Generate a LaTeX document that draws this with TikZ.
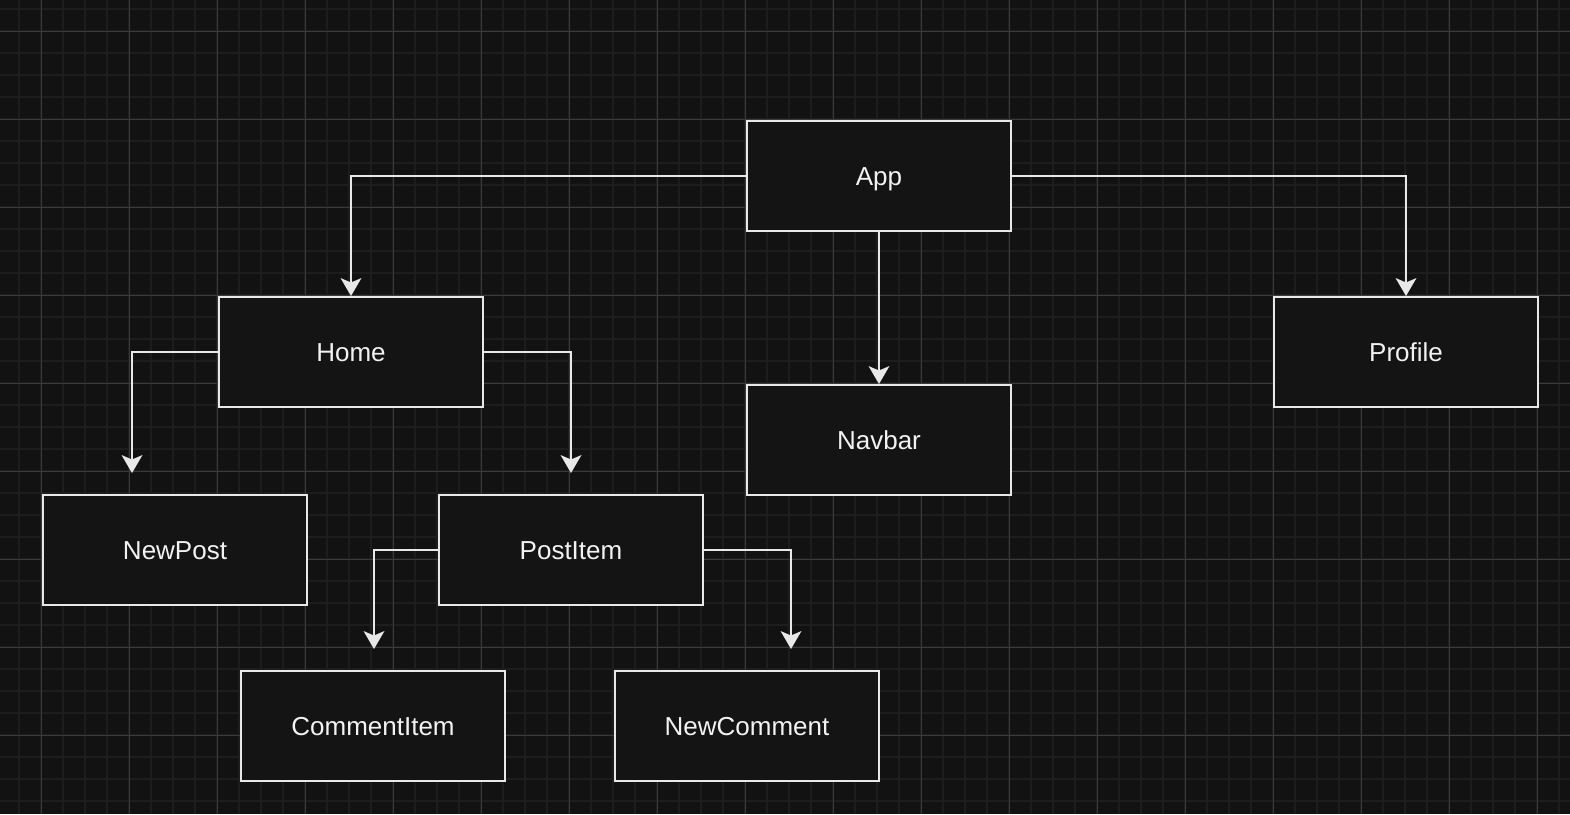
\documentclass[tikz,border=0pt]{standalone}
\usepackage{fontspec}
\setmainfont{Liberation Sans}
\usetikzlibrary{arrows.meta}
\definecolor{bgc}{HTML}{121212}
\definecolor{minorc}{HTML}{1D1D1D}
\definecolor{majorc}{HTML}{3A3A3A}
\definecolor{boxfill}{HTML}{141414}
\definecolor{linec}{HTML}{E8E8E8}
\definecolor{textc}{HTML}{F2F2F2}
\tikzset{
  comp/.style={draw=linec, line width=2pt, fill=boxfill, minimum width=264pt, minimum height=110pt,
    inner sep=0pt, text=textc, text height=18.7pt, text depth=0pt, font=\fontsize{26}{31}\selectfont},
  conn/.style={draw=linec, line width=2pt, -{Stealth[length=18pt,width=21pt,inset=4.5pt,line width=0pt]}},
}
\begin{document}
\begin{tikzpicture}[x=1pt,y=-1pt]
\useasboundingbox (0,0) rectangle (1570,814);
\fill[bgc] (0,0) rectangle (1570,814);
% minor grid
\foreach \x in {19,41,...,1570} \draw[minorc, line width=2pt] (\x,0) -- (\x,814);
\foreach \y in {9,31,...,814} \draw[minorc, line width=2pt] (0,\y) -- (1570,\y);
% major grid
\foreach \x in {41,129,...,1570} \draw[majorc, line width=1pt] (\x,0) -- (\x,814);
\foreach \y in {31,119,...,814} \draw[majorc, line width=1pt] (0,\y) -- (1570,\y);
% nodes
\node[comp] (app) at (879,176) {App};
\node[comp] (home) at (351,352) {Home};
\node[comp] (profile) at (1406,352) {Profile};
\node[comp] (navbar) at (879,440) {Navbar};
\node[comp] (newpost) at (175,550) {NewPost};
\node[comp] (postitem) at (571,550) {PostItem};
\node[comp] (commentitem) at (373,726) {CommentItem};
\node[comp] (newcomment) at (747,726) {NewComment};
% free ends
\coordinate (npend) at (132,473);
\coordinate (piend) at (571,473);
\coordinate (ciend) at (374,649);
\coordinate (ncend) at (791,649);
% connectors
\draw[conn] (app.west) -| (home.north);
\draw[conn] (app.east) -| (profile.north);
\draw[conn] (app.south) -- (navbar.north);
\draw[conn] (home.west) -| (npend);
\draw[conn] (home.east) -| (piend);
\draw[conn] (postitem.west) -| (ciend);
\draw[conn] (postitem.east) -| (ncend);
\end{tikzpicture}
\end{document}
